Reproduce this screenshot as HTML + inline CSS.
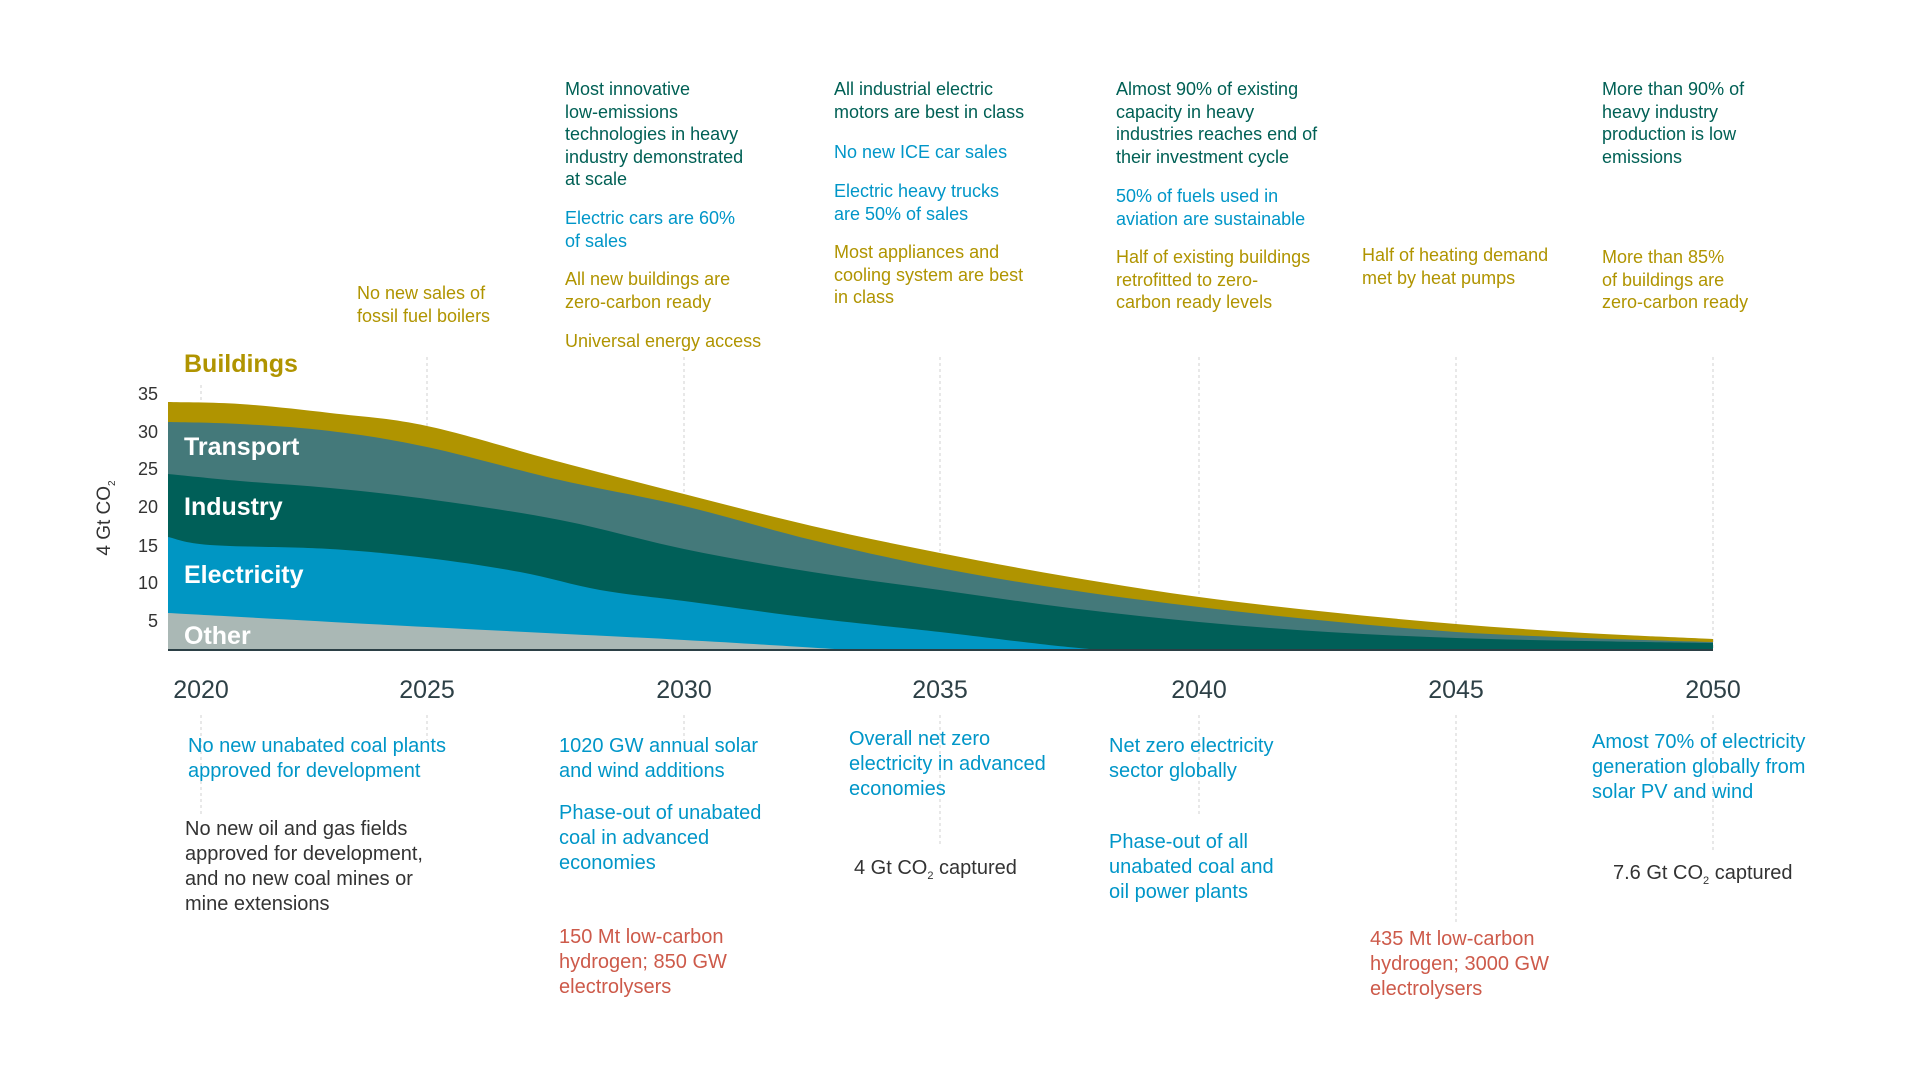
<!DOCTYPE html>
<html><head><meta charset="utf-8"><style>
body{margin:0;width:1920px;height:1080px;background:#fff;position:relative;overflow:hidden;font-family:"Liberation Sans",sans-serif}
.t{position:absolute;font-size:18px;line-height:22.5px;white-space:nowrap}
.b{position:absolute;font-size:20px;line-height:25px;white-space:nowrap}
.g{color:#006055}.bl{color:#0096c8}.go{color:#b09400}.dk{color:#333}.rd{color:#cd5a4a}
.yr{position:absolute;font-size:25px;color:#2d4046;transform:translateX(-50%);top:676px}
.yl{position:absolute;font-size:18px;color:#333;width:40px;text-align:right;left:118px}
.sl{position:absolute;font-size:25px;font-weight:bold;color:#fff;left:184px}
svg{position:absolute;left:0;top:0}
</style></head><body>
<svg width="1920" height="1080" id="s">
<g stroke="#d0d0d0" stroke-width="1" stroke-dasharray="3,3">
<line x1="201" y1="385" x2="201" y2="650"/><line x1="201" y1="715" x2="201" y2="815"/>
<line x1="427" y1="357" x2="427" y2="650"/><line x1="427" y1="715" x2="427" y2="740"/>
<line x1="684" y1="357" x2="684" y2="650"/><line x1="684" y1="715" x2="684" y2="740"/>
<line x1="940" y1="357" x2="940" y2="650"/><line x1="940" y1="715" x2="940" y2="845"/>
<line x1="1199" y1="357" x2="1199" y2="650"/><line x1="1199" y1="715" x2="1199" y2="815"/>
<line x1="1456" y1="357" x2="1456" y2="650"/><line x1="1456" y1="715" x2="1456" y2="925"/>
<line x1="1713" y1="357" x2="1713" y2="650"/><line x1="1713" y1="715" x2="1713" y2="850"/>
</g>
<path id="p1" fill="#b09400"/><path id="p2" fill="#44797a"/><path id="p3" fill="#005f58"/><path id="p4" fill="#0096c3"/><path id="p5" fill="#aab8b5"/>
<line x1="168" y1="650" x2="1713" y2="650" stroke="#2b3f45" stroke-width="2"/>
</svg>
<script>
function cr(p){var d="M"+p[0][0]+","+p[0][1];for(var i=0;i<p.length-1;i++){var p0=p[i-1]||p[i],p1=p[i],p2=p[i+1],p3=p[i+2]||p2;var c1=[p1[0]+(p2[0]-p0[0])/6,p1[1]+(p2[1]-p0[1])/6],c2=[p2[0]-(p3[0]-p1[0])/6,p2[1]-(p3[1]-p1[1])/6];d+=" C"+c1+" "+c2+" "+p2;}return d;}
function area(id,pts){var last=pts[pts.length-1];document.getElementById(id).setAttribute("d",cr(pts)+" L"+last[0]+",650 L168,650 Z");}
area("p1",[[168,402],[240,404],[330,413],[427,426],[560,462],[684,494],[812,526],[940,553],[1070,577],[1199,597],[1328,612],[1456,624],[1585,633],[1713,639]]);
area("p2",[[168,422],[240,424],[330,431],[427,447],[560,480],[684,506],[812,540],[940,568],[1070,590],[1199,607],[1328,621],[1456,632],[1585,638],[1713,642]]);
area("p3",[[168,474],[240,481],[330,488],[427,499],[560,520],[684,549],[812,572],[940,590],[1070,608],[1199,622],[1328,632],[1456,638],[1585,641],[1713,643]]);
area("p4",[[168,537],[210,545],[330,549],[427,558],[520,572],[600,590],[684,601],[812,618],[940,632],[1040,644],[1100,650]]);
area("p5",[[168,613],[427,627],[684,640],[850,650]]);
</script>
<div class="t go" style="left:357px;top:282px">No new sales of<br>fossil fuel boilers</div>
<div class="t g" style="left:565px;top:78px">Most innovative<br>low-emissions<br>technologies in heavy<br>industry demonstrated<br>at scale</div>
<div class="t bl" style="left:565px;top:207px">Electric cars are 60%<br>of sales</div>
<div class="t go" style="left:565px;top:268px">All new buildings are<br>zero-carbon ready</div>
<div class="t go" style="left:565px;top:330px">Universal energy access</div>
<div class="t g" style="left:834px;top:78px">All industrial electric<br>motors are best in class</div>
<div class="t bl" style="left:834px;top:141px">No new ICE car sales</div>
<div class="t bl" style="left:834px;top:180px">Electric heavy trucks<br>are 50% of sales</div>
<div class="t go" style="left:834px;top:241px">Most appliances and<br>cooling system are best<br>in class</div>
<div class="t g" style="left:1116px;top:78px">Almost 90% of existing<br>capacity in heavy<br>industries reaches end of<br>their investment cycle</div>
<div class="t bl" style="left:1116px;top:185px">50% of fuels used in<br>aviation are sustainable</div>
<div class="t go" style="left:1116px;top:246px">Half of existing buildings<br>retrofitted to zero-<br>carbon ready levels</div>
<div class="t go" style="left:1362px;top:244px">Half of heating demand<br>met by heat pumps</div>
<div class="t g" style="left:1602px;top:78px">More than 90% of<br>heavy industry<br>production is low<br>emissions</div>
<div class="t go" style="left:1602px;top:246px">More than 85%<br>of buildings are<br>zero-carbon ready</div>

<div style="position:absolute;left:184px;top:350px;font-size:25px;font-weight:bold;color:#b09400">Buildings</div>
<div class="sl" style="top:433px">Transport</div>
<div class="sl" style="top:493px">Industry</div>
<div class="sl" style="top:561px">Electricity</div>
<div class="sl" style="top:622px">Other</div>

<div class="yl" style="top:384px">35</div><div class="yl" style="top:422px">30</div><div class="yl" style="top:459px">25</div><div class="yl" style="top:497px">20</div><div class="yl" style="top:536px">15</div><div class="yl" style="top:573px">10</div><div class="yl" style="top:611px">5</div>
<div style="position:absolute;left:106px;top:518px;transform:translate(-50%,-50%) rotate(-90deg);font-size:19px;color:#333;white-space:nowrap">4 Gt CO<sub style="font-size:10px">2</sub></div>

<div class="yr" style="left:201px">2020</div><div class="yr" style="left:427px">2025</div><div class="yr" style="left:684px">2030</div><div class="yr" style="left:940px">2035</div><div class="yr" style="left:1199px">2040</div><div class="yr" style="left:1456px">2045</div><div class="yr" style="left:1713px">2050</div>

<div class="b bl" style="left:188px;top:734px">No new unabated coal plants<br>approved for development</div>
<div class="b dk" style="left:185px;top:817px">No new oil and gas fields<br>approved for development,<br>and no new coal mines or<br>mine extensions</div>
<div class="b bl" style="left:559px;top:734px">1020 GW annual solar<br>and wind additions</div>
<div class="b bl" style="left:559px;top:801px">Phase-out of unabated<br>coal in advanced<br>economies</div>
<div class="b rd" style="left:559px;top:925px">150 Mt low-carbon<br>hydrogen; 850 GW<br>electrolysers</div>
<div class="b bl" style="left:849px;top:727px">Overall net zero<br>electricity in advanced<br>economies</div>
<div class="b dk" style="left:854px;top:856px">4 Gt CO<sub style="font-size:11px">2</sub> captured</div>
<div class="b bl" style="left:1109px;top:734px">Net zero electricity<br>sector globally</div>
<div class="b bl" style="left:1109px;top:830px">Phase-out of all<br>unabated coal and<br>oil power plants</div>
<div class="b rd" style="left:1370px;top:927px">435 Mt low-carbon<br>hydrogen; 3000 GW<br>electrolysers</div>
<div class="b bl" style="left:1592px;top:730px">Amost 70% of electricity<br>generation globally from<br>solar PV and wind</div>
<div class="b dk" style="left:1613px;top:861px">7.6 Gt CO<sub style="font-size:11px">2</sub> captured</div>
</body></html>
